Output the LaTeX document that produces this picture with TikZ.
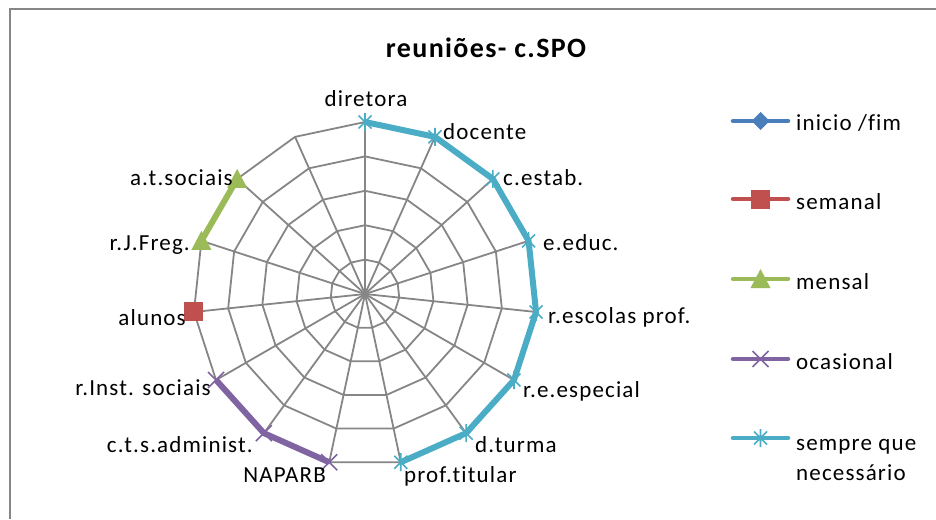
\documentclass[tikz,border=0pt]{standalone}
\usepackage{fontspec}
\setmainfont{Carlito}[LetterSpace=5, Ligatures=NoCommon]
\usepackage{xcolor}
\definecolor{GridGray}{RGB}{134, 134, 134}
\definecolor{SerBlue}{RGB}{74, 126, 187}
\definecolor{SerRed}{RGB}{192, 80, 77}
\definecolor{SerGreen}{RGB}{155, 187, 89}
\definecolor{SerPurple}{RGB}{128, 100, 162}
\definecolor{SerCyan}{RGB}{75, 172, 198}
\usepackage{tikz}
\usetikzlibrary{positioning}

\tikzset{
    starmk/.pic={\draw[line width=1.6pt] (-6.5,-6.5) -- (6.5,6.5) (-6.5,6.5) -- (6.5,-6.5) (0,-9) -- (0,9);},
    crossmk/.pic={\draw[line width=1.6pt] (-8,-8) -- (8,8) (-8,8) -- (8,-8);},
    trimk/.pic={\fill (-10,-9) -- (10,-9) -- (0,10) -- cycle;},
    sqmk/.pic={\fill (-9.5,-9.5) rectangle (9.5,9.5);},
    diamk/.pic={\fill (-9,0) -- (0,9) -- (9,0) -- (0,-9) -- cycle;}
}

\begin{document}
\begin{tikzpicture}[
        x=1pt, y=1pt,
        frame/.style={draw=GridGray, line width=2pt},
        gridline/.style={draw=GridGray, line width=1.8pt},
        series/.style={line width=6pt, line join=round},
        legline/.style={line width=4.5pt, line cap=round},
        axislabel/.style={inner sep=0pt, font=\fontsize{23}{28}\selectfont},
        legtext/.style={inner sep=0pt, align=left, anchor=base west, font=\fontsize{23}{30}\selectfont},
        charttitle/.style={inner sep=0pt, anchor=base, font=\fontsize{28}{32}\selectfont\bfseries}
    ]
        \useasboundingbox (0,0) rectangle (936,-519);

        % Frame and title
        \draw[frame] (10,-519) -- (10,-9) -- (936,-9);
        \node[charttitle] (title) at (486,-57) {reuniões- c.SPO};

        % Grid
        \begin{scope}[shift={(365,-294)}]
            \coordinate (ctr) at (0,0);
            \foreach \k in {0,...,14}
                \coordinate (s\k) at (90-24*\k:172);
            \foreach \r in {34.4,68.8,103.2,137.6,172}
                \draw[gridline] (90:\r) \foreach \k in {1,...,14} {-- (90-24*\k:\r)} -- cycle;
            \foreach \k in {1,...,14}
                \draw[gridline] (ctr) -- (s\k);
            \draw[gridline, line width=2.6pt] (ctr) -- (s0);
        \end{scope}

        % Series
        \draw[series, SerCyan] (s0) -- (s1) -- (s2) -- (s3) -- (s4) -- (s5) -- (s6) -- (s7);
        \draw[series, SerPurple] (s8) -- (s9) -- (s10);
        \draw[series, SerGreen] (s12) -- (s13);
        \foreach \k in {0,...,7}
            \pic[SerCyan] at (s\k) {starmk};
        \foreach \k in {8,9,10}
            \pic[SerPurple] at (s\k) {crossmk};
        \foreach \k in {12,13}
            \pic[SerGreen] at (s\k) {trimk};
        \pic[SerRed] at (s11) {sqmk};

        % Axis labels
        \node[axislabel, anchor=base] (diretora) at (366,-106) {diretora};
        \node[axislabel, anchor=base west] (docente) at (443,-139) {docente};
        \node[axislabel, anchor=base west] (cestab) at (503,-185) {c.estab.};
        \node[axislabel, anchor=base west] (eeduc) at (543,-250) {e.educ.};
        \node[axislabel, anchor=base west] (rescolas) at (548,-323) {r.escolas prof.};
        \node[axislabel, anchor=base west] (reesp) at (523,-397) {r.e.especial};
        \node[axislabel, anchor=base west] (dturma) at (475,-452) {d.turma};
        \node[axislabel, anchor=base west] (proftit) at (404,-482) {prof.titular};
        \node[axislabel, anchor=base east] (naparb) at (326,-482) {NAPARB};
        \node[axislabel, anchor=base east] (ctsadm) at (253,-452) {c.t.s.administ.};
        \node[axislabel, anchor=base east] (rinst) at (211,-395) {r.Inst. sociais};
        \node[axislabel, anchor=base east] (alunos) at (186,-325) {alunos};
        \node[axislabel, anchor=base east] (rjfreg) at (190,-250) {r.J.Freg.};
        \node[axislabel, anchor=base east] (atsoc) at (233,-185) {a.t.sociais};

        % Legend
        \foreach \y/\n in {121/1, 199/2, 279/3, 359/4, 438/5} {
            \coordinate (la\n) at (733,-\y);
            \coordinate (lm\n) at (760.5,-\y);
            \coordinate (lb\n) at (788,-\y);
        }
        \draw[legline, SerBlue] (la1) -- (lb1);
        \pic[SerBlue] at (lm1) {diamk};
        \draw[legline, SerRed] (la2) -- (lb2);
        \pic[SerRed] at (lm2) {sqmk};
        \draw[legline, SerGreen] (la3) -- (lb3);
        \pic[SerGreen] at (lm3) {trimk};
        \draw[legline, SerPurple] (la4) -- (lb4);
        \pic[SerPurple] at (lm4) {crossmk};
        \draw[legline, SerCyan] (la5) -- (lb5);
        \pic[SerCyan] at (lm5) {starmk};

        \node[legtext] (leg1) at (796,-130) {inicio /fim};
        \node[legtext] (leg2) at (796,-209) {semanal};
        \node[legtext] (leg3) at (796,-289) {mensal};
        \node[legtext] (leg4) at (796,-369) {ocasional};
        \node[legtext] (leg5) at (796,-480) {sempre que\\necessário};
    \end{tikzpicture}
\end{document}
